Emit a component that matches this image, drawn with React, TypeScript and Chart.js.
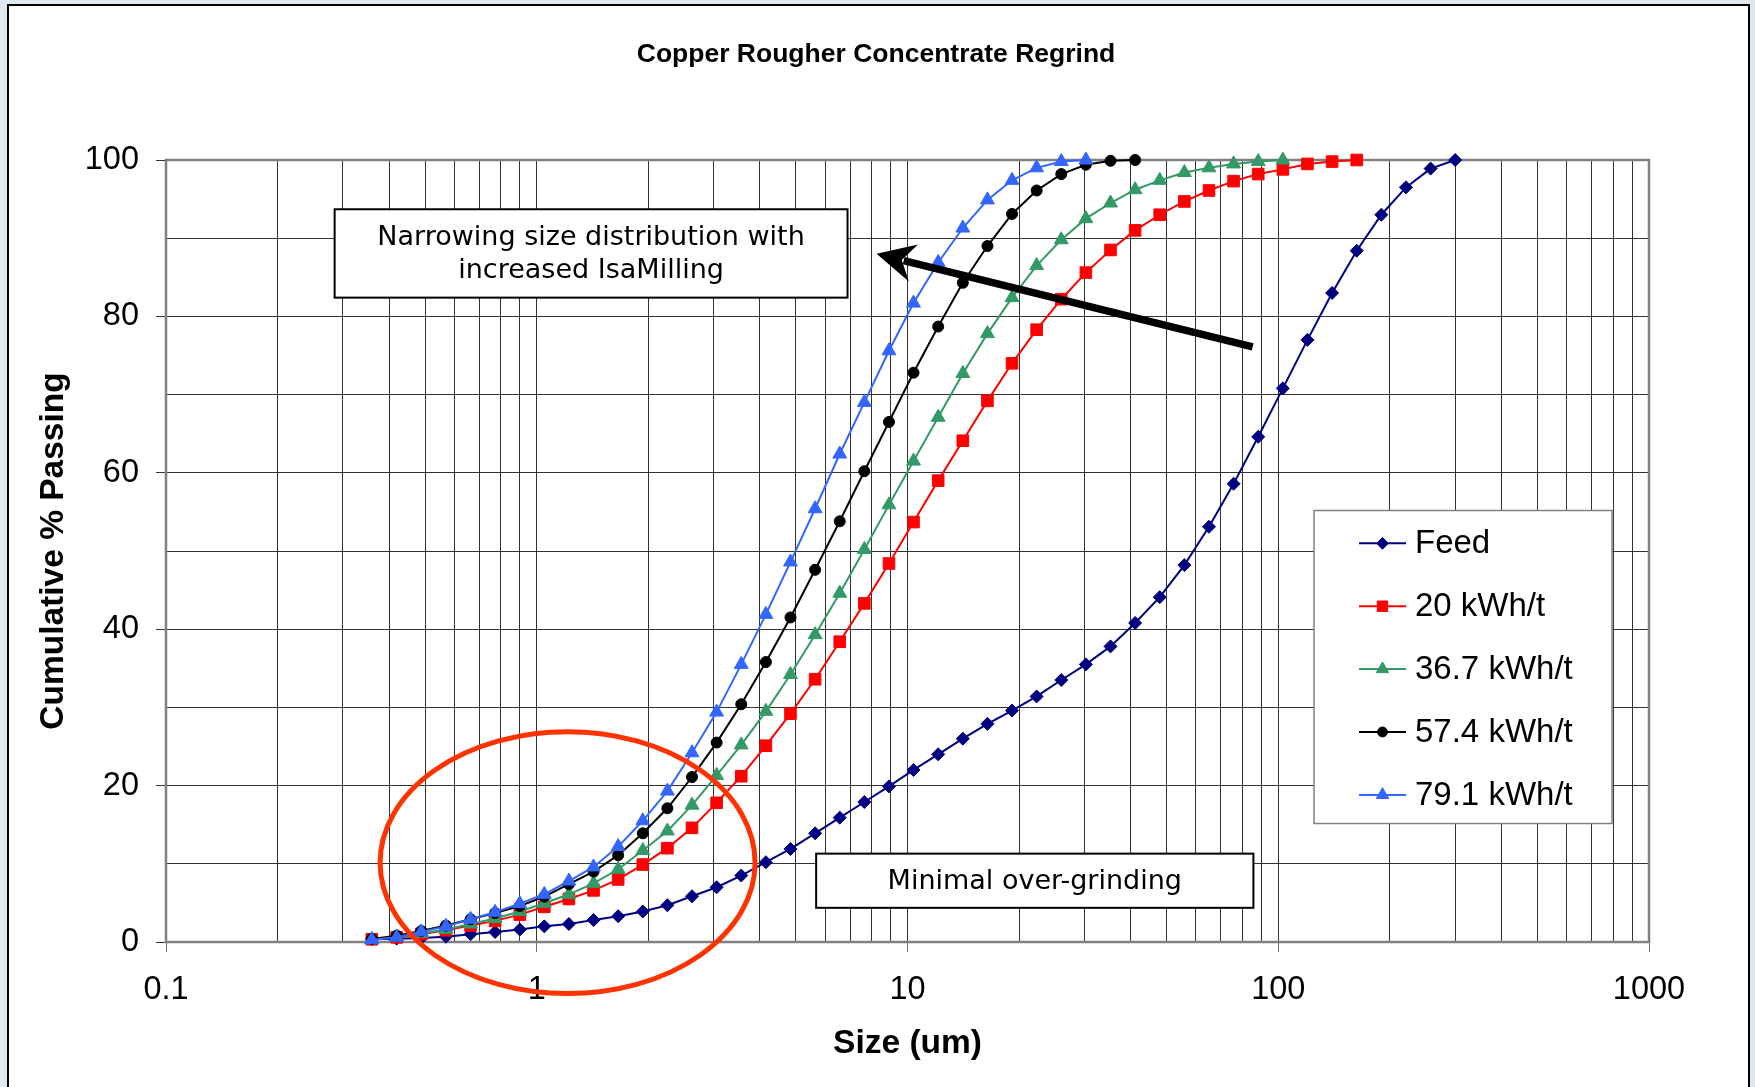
import React, { useEffect, useRef } from 'react';
import { Chart, registerables } from 'chart.js';
import { drawPoint } from 'chart.js/helpers';

Chart.register(...registerables);

// ---------------- data ----------------
const sizes = [
  0.359, 0.419, 0.488, 0.569, 0.663, 0.772, 0.9, 1.048, 1.221, 1.423,
  1.658, 1.932, 2.251, 2.623, 3.056, 3.561, 4.15, 4.835, 5.634, 6.565,
  7.649, 8.913, 10.38, 12.1, 14.1, 16.43, 19.14, 22.3, 25.99, 30.28,
  35.28, 41.11, 47.9, 55.82, 65.04, 75.78, 88.31, 102.9, 119.9, 139.7,
  162.8, 189.7, 221.0, 257.6, 300.1,
];

const feedPassing = [
  0.34, 0.43, 0.5, 0.68, 1.0, 1.28, 1.6, 2.0, 2.3, 2.8,
  3.3, 3.9, 4.7, 5.85, 7.0, 8.5, 10.2, 11.9, 13.9, 15.9,
  17.9, 19.9, 22.0, 24.0, 26.0, 27.9, 29.6, 31.4, 33.5, 35.5,
  37.8, 40.8, 44.1, 48.2, 53.1, 58.6, 64.6, 70.8, 77.0, 83.0,
  88.4, 93.0, 96.5, 98.9, 100,
];

const kwh20Passing = [
  0.35, 0.6, 1.0, 1.5, 2.1, 2.7, 3.5, 4.5, 5.5, 6.6,
  8.0, 9.9, 12.0, 14.6, 17.8, 21.2, 25.1, 29.2, 33.6, 38.4,
  43.3, 48.4, 53.7, 59.0, 64.1, 69.2, 74.0, 78.3, 82.2, 85.6,
  88.5, 91.0, 93.0, 94.7, 96.1, 97.3, 98.2, 98.8, 99.5, 99.8,
  100,
];

const kwh367Passing = [
  0.3, 0.65, 1.1, 1.6, 2.3, 3.0, 3.9, 4.95, 6.1, 7.5,
  9.3, 11.7, 14.2, 17.5, 21.3, 25.2, 29.5, 34.2, 39.3, 44.6,
  50.2, 55.9, 61.5, 67.1, 72.7, 77.8, 82.4, 86.5, 89.8, 92.5,
  94.5, 96.2, 97.4, 98.4, 99.0, 99.5, 99.8, 100,
];

const kwh574Passing = [
  0.4, 0.8, 1.4, 2.1, 2.9, 3.7, 4.6, 5.8, 7.4, 9.0,
  11.1, 13.9, 17.1, 21.1, 25.5, 30.4, 35.8, 41.5, 47.6, 53.8,
  60.2, 66.5, 72.8, 78.7, 84.3, 89.0, 93.1, 96.1, 98.2, 99.4,
  99.9, 100,
];

const kwh791Passing = [
  0.3, 0.6, 1.3, 2.0, 2.9, 3.8, 4.9, 6.1, 7.8, 9.6,
  12.2, 15.5, 19.3, 24.2, 29.4, 35.5, 41.9, 48.6, 55.4, 62.4,
  69.0, 75.6, 81.7, 86.9, 91.3, 94.9, 97.4, 99.0, 99.8, 100,
];

const seriesNames = ['Feed', '20 kWh/t', '36.7 kWh/t', '57.4 kWh/t', '79.1 kWh/t'];
const xTickLabels = ['0.1', '1', '10', '100', '1000'];
const yTickLabels = ['0', '20', '40', '60', '80', '100'];
const chartTitle = 'Copper Rougher Concentrate Regrind';
const xAxisTitle = 'Size (um)';
const yAxisTitle = 'Cumulative % Passing';
const noteNarrowing = ['Narrowing size distribution with', 'increased IsaMilling'];
const noteMinimal = ['Minimal over-grinding'];

// ---------------- styles ----------------
const W = 1755;
const H = 1087;
const SANS = '"Liberation Sans", Arial, Helvetica, sans-serif';
const NOTE_FONT = '27px "DejaVu Sans", Verdana, sans-serif';

const STYLES = [
  { color: '#000080', marker: 'rectRot', radius: 6.5 },
  { color: '#FF0000', marker: 'rect', radius: 8.2 },
  { color: '#339966', marker: 'triangle', radius: 8 },
  { color: '#000000', marker: 'circle', radius: 5.5 },
  { color: '#3366FF', marker: 'triangle', radius: 8 },
];

const seriesValues = [feedPassing, kwh20Passing, kwh367Passing, kwh574Passing, kwh791Passing];

const decades = [0.1, 1, 10, 100];
const xGridValues: number[] = [];
decades.forEach((d) => {
  for (let m = 1; m <= 9; m++) xGridValues.push(d * m);
});
xGridValues.push(1000);

const isDecade = (v: number) => Math.abs(Math.log10(v) - Math.round(Math.log10(v))) < 1e-6;

const toPx = (chart: any, xv: number, yv: number) => [
  chart.scales.x.getPixelForValue(xv),
  chart.scales.y.getPixelForValue(yv),
];

function drawNoteBox(ctx: CanvasRenderingContext2D, chart: any, x0: number, x1: number, y0: number, y1: number, lines: string[]) {
  const [l, t] = toPx(chart, x0, y0);
  const [r, b] = toPx(chart, x1, y1);
  ctx.save();
  ctx.fillStyle = '#ffffff';
  ctx.fillRect(l, t, r - l, b - t);
  ctx.strokeStyle = '#000000';
  ctx.lineWidth = 2;
  ctx.strokeRect(l, t, r - l, b - t);
  ctx.fillStyle = '#000000';
  ctx.font = NOTE_FONT;
  ctx.textAlign = 'center';
  ctx.textBaseline = 'middle';
  const cx = (l + r) / 2;
  const cy = (t + b) / 2;
  const lh = 33.3;
  lines.forEach((s, i) => ctx.fillText(s, cx, cy + 1 + (i - (lines.length - 1) / 2) * lh));
  ctx.restore();
}

function drawArrow(ctx: CanvasRenderingContext2D, chart: any) {
  const [x0, y0] = toPx(chart, 85.3, 76.1); // tail
  const [x1, y1] = toPx(chart, 8.25, 88.0); // tip
  const dx = x1 - x0;
  const dy = y1 - y0;
  const len = Math.hypot(dx, dy);
  const ux = dx / len;
  const uy = dy / len;
  const nx = -uy;
  const ny = ux;
  const headLen = 38;
  const headHalf = 19;
  const notch = 26;
  ctx.save();
  ctx.strokeStyle = '#000';
  ctx.fillStyle = '#000';
  ctx.lineWidth = 7.5;
  ctx.lineCap = 'butt';
  ctx.beginPath();
  ctx.moveTo(x0, y0);
  ctx.lineTo(x1 - ux * (notch + 2), y1 - uy * (notch + 2));
  ctx.stroke();
  ctx.beginPath();
  ctx.moveTo(x1, y1);
  ctx.lineTo(x1 - ux * headLen + nx * headHalf, y1 - uy * headLen + ny * headHalf);
  ctx.lineTo(x1 - ux * notch, y1 - uy * notch);
  ctx.lineTo(x1 - ux * headLen - nx * headHalf, y1 - uy * headLen - ny * headHalf);
  ctx.closePath();
  ctx.fill();
  ctx.restore();
}

function drawEllipse(ctx: CanvasRenderingContext2D, chart: any) {
  const [l, t] = toPx(chart, 0.378, 26.9);
  const [r, b] = toPx(chart, 3.88, -6.6);
  ctx.save();
  ctx.strokeStyle = '#FF3300';
  ctx.lineWidth = 5;
  ctx.beginPath();
  ctx.ellipse((l + r) / 2, (t + b) / 2, (r - l) / 2, (b - t) / 2, 0, 0, Math.PI * 2);
  ctx.stroke();
  ctx.restore();
}

function drawLegend(ctx: CanvasRenderingContext2D, chart: any) {
  const ca = chart.chartArea;
  const left = ca.right - 335;
  const right = ca.right - 37;
  const top = ca.top + 350.5;
  const bottom = ca.top + 663.5;
  ctx.save();
  ctx.fillStyle = '#ffffff';
  ctx.fillRect(left, top, right - left, bottom - top);
  ctx.strokeStyle = '#808080';
  ctx.lineWidth = 1.5;
  ctx.strokeRect(left, top, right - left, bottom - top);
  seriesNames.forEach((name, i) => {
    const st = STYLES[i];
    const y = top + 32.8 + i * 62.9;
    ctx.strokeStyle = st.color;
    ctx.lineWidth = 2;
    ctx.beginPath();
    ctx.moveTo(left + 45, y);
    ctx.lineTo(left + 92, y);
    ctx.stroke();
    ctx.fillStyle = st.color;
    ctx.strokeStyle = st.color;
    ctx.lineWidth = 1;
    drawPoint(ctx, { pointStyle: st.marker, radius: st.radius * 0.9, rotation: 0, borderWidth: 1 } as any, left + 68.5, y);
    ctx.fillStyle = '#000000';
    ctx.font = `33px ${SANS}`;
    ctx.textAlign = 'left';
    ctx.textBaseline = 'middle';
    ctx.fillText(name, left + 101, y + 1);
  });
  ctx.restore();
}

const decorPlugin = {
  id: 'decor',
  beforeDraw(chart: any) {
    const ctx = chart.ctx;
    ctx.save();
    ctx.fillStyle = '#dde8f1';
    ctx.fillRect(0, 0, W, H);
    ctx.fillStyle = '#ffffff';
    ctx.fillRect(8, 5, 1741, H);
    ctx.strokeStyle = '#000000';
    ctx.lineWidth = 2;
    ctx.strokeRect(8, 5, 1741, H + 20);
    // chart title
    ctx.fillStyle = '#000000';
    ctx.font = `bold 26.5px ${SANS}`;
    ctx.textAlign = 'center';
    ctx.textBaseline = 'middle';
    ctx.fillText(chartTitle, 876, 54.5);
    ctx.restore();
  },
  beforeDatasetsDraw(chart: any) {
    const ctx = chart.ctx;
    const ca = chart.chartArea;
    ctx.save();
    ctx.strokeStyle = '#808080';
    ctx.lineWidth = 2.5;
    ctx.strokeRect(ca.left, ca.top, ca.right - ca.left, ca.bottom - ca.top);
    ctx.restore();
  },
  afterDatasetsDraw(chart: any) {
    const ctx = chart.ctx;
    drawNoteBox(ctx, chart, 0.285, 6.89, 93.7, 82.4, noteNarrowing);
    drawNoteBox(ctx, chart, 5.67, 85.7, 11.3, 4.37, noteMinimal);
    drawArrow(ctx, chart);
    drawEllipse(ctx, chart);
    drawLegend(ctx, chart);
  },
};

export default function App() {
  const canvasRef = useRef<HTMLCanvasElement | null>(null);

  useEffect(() => {
    const canvas = canvasRef.current;
    if (!canvas) return;
    Chart.defaults.font.family = SANS;
    Chart.defaults.color = '#000000';

    const datasets = seriesNames.map((name, i) => ({
      label: name,
      data: seriesValues[i].map((y, k) => ({ x: sizes[k], y })),
      borderColor: STYLES[i].color,
      backgroundColor: STYLES[i].color,
      pointBackgroundColor: STYLES[i].color,
      pointBorderColor: STYLES[i].color,
      pointStyle: STYLES[i].marker,
      pointRadius: STYLES[i].radius,
      pointBorderWidth: 1,
      borderWidth: 2,
      tension: 0,
      fill: false,
      clip: false,
      order: seriesNames.length - i,
    }));

    const chart = new Chart(canvas, {
      type: 'line',
      data: { datasets } as any,
      plugins: [decorPlugin],
      options: {
        responsive: false,
        animation: false,
        devicePixelRatio: 1,
        events: [],
        layout: { padding: { left: 0, right: 106, top: 160, bottom: 0 } },
        plugins: {
          legend: { display: false },
          tooltip: { enabled: false },
          title: { display: false },
        },
        scales: {
          x: {
            type: 'logarithmic',
            min: 0.1,
            max: 1000,
            afterBuildTicks: (scale: any) => {
              scale.ticks = xGridValues.map((v) => ({ value: v }));
            },
            afterFit: (scale: any) => {
              scale.height = 145;
            },
            ticks: {
              autoSkip: false,
              maxRotation: 0,
              minRotation: 0,
              padding: 19,
              color: '#000000',
              font: { size: 32.5, family: SANS },
              callback: (value: any) => {
                const v = Number(value);
                return isDecade(v) ? xTickLabels[Math.round(Math.log10(v)) + 1] : '';
              },
            },
            grid: {
              color: '#333333',
              lineWidth: 1,
              drawTicks: true,
              tickLength: 10,
              tickWidth: 1,
              tickColor: (ctx: any) => (ctx.tick && isDecade(ctx.tick.value) ? '#707070' : 'rgba(0,0,0,0)'),
            },
            border: { display: false },
            title: {
              display: true,
              text: xAxisTitle,
              color: '#000000',
              font: { size: 33.5, weight: 'bold', family: SANS },
              padding: { top: 0, bottom: 23 },
            },
          },
          y: {
            type: 'linear',
            min: 0,
            max: 100,
            afterFit: (scale: any) => {
              scale.width = 166;
            },
            ticks: {
              stepSize: 10,
              autoSkip: false,
              padding: 17,
              color: '#000000',
              font: { size: 32.5, family: SANS },
              callback: (value: any) => {
                const v = Math.round(Number(value));
                return v % 20 === 0 ? yTickLabels[v / 20] : '';
              },
            },
            grid: {
              color: '#333333',
              lineWidth: 1,
              drawTicks: true,
              tickLength: 10,
              tickWidth: 1,
              tickColor: (ctx: any) => (ctx.tick && Math.round(ctx.tick.value) % 20 === 0 ? '#333333' : 'rgba(0,0,0,0)'),
            },
            border: { display: false },
            title: {
              display: true,
              text: yAxisTitle,
              color: '#000000',
              font: { size: 33.5, weight: 'bold', family: SANS },
              padding: { top: 34, bottom: 0 },
            },
          },
        },
      } as any,
    });

    return () => {
      chart.destroy();
    };
  }, []);

  return (
    <div style={{ position: 'fixed', left: 0, top: 0, width: W, height: H, overflow: 'hidden' }}>
      <canvas ref={canvasRef} width={W} height={H} style={{ display: 'block', width: W, height: H }} />
    </div>
  );
}
